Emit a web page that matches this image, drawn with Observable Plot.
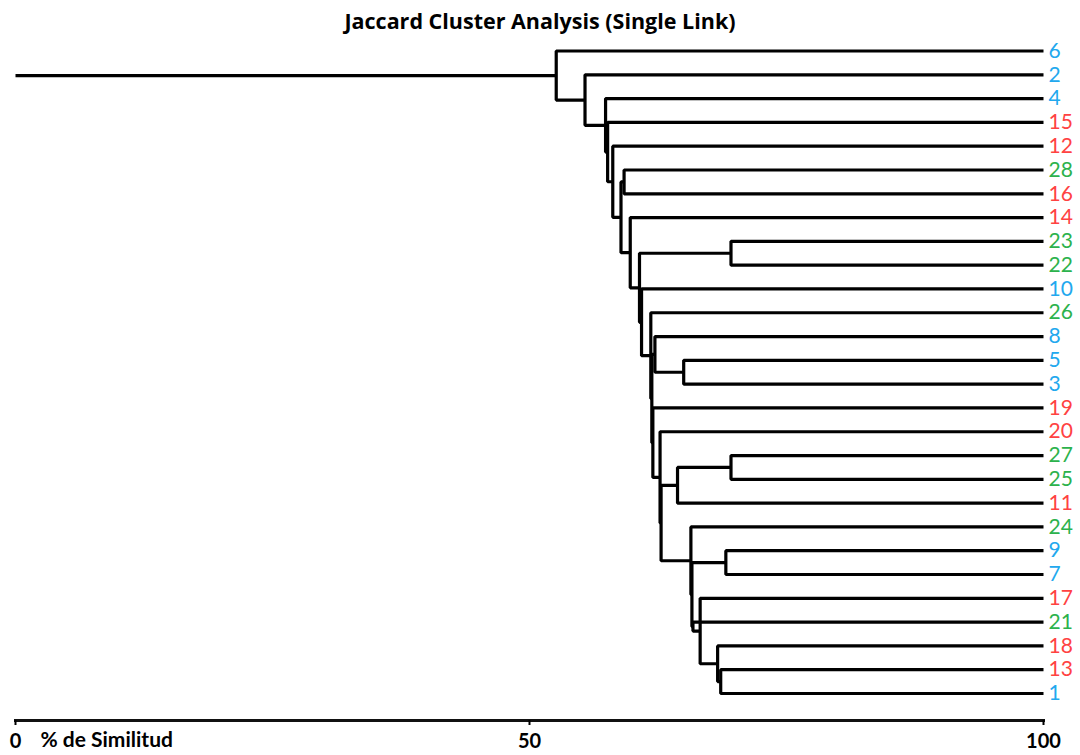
<!DOCTYPE html>
<html>
<head>
<meta charset="utf-8">
<script src="https://cdn.jsdelivr.net/npm/d3@7"></script>
<script src="https://cdn.jsdelivr.net/npm/@observablehq/plot@0.6"></script>
<style>
  html, body { margin: 0; padding: 0; background: #fff; }
  #title { height: 30px; line-height: 42px; text-align: center; font-family: "Open Sans", Lato, sans-serif; font-weight: bold; font-size: 21.5px; color: #000; white-space: nowrap; }
  #chart svg { display: block; }
</style>
</head>
<body>
<div id="title">Jaccard Cluster Analysis (Single Link)</div>
<div id="chart"></div>
<script>
// Leaf order (top to bottom) and their group colours
const leaves = ["6","2","4","15","12","28","16","14","23","22","10","26","8","5","3","19","20","27","25","11","24","9","7","17","21","18","13","1"];
const leafGroups = ["azul","azul","azul","rojo","rojo","verde","rojo","rojo","verde","verde","azul","verde","azul","azul","azul","rojo","rojo","verde","verde","rojo","verde","azul","azul","rojo","verde","rojo","rojo","azul"];
const groupNames = ["azul","rojo","verde"];
const groupColors = ["#22a8ee","#ff4242","#2cb24c"];

// Single-link merges: [child A, child B, % similarity]; merge k is named "m"+(k+1)
const merges = [
  ["13","1",68.6],
  ["18","m1",68.3],
  ["17","m2",66.6],
  ["21","m3",65.9],
  ["9","7",69.1],
  ["m5","m4",65.8],
  ["24","m6",65.7],
  ["27","25",69.6],
  ["m8","11",64.4],
  ["m9","m7",62.8],
  ["20","m10",62.7],
  ["19","m11",62.0],
  ["5","3",65.0],
  ["8","m13",62.2],
  ["m14","m12",61.9],
  ["26","m15",61.8],
  ["10","m16",60.9],
  ["23","22",69.6],
  ["m18","m17",60.7],
  ["14","m19",59.8],
  ["28","16",59.2],
  ["m21","m20",58.9],
  ["12","m22",58.1],
  ["15","m23",57.6],
  ["4","m24",57.4],
  ["2","m25",55.4],
  ["6","m26",52.6]
];
const axisTicks = [0, 50, 100];
const axisTitle = "% de Similitud";

// Build elbow paths from the merge table
const pos = new Map();
leaves.forEach((l, i) => pos.set(l, {x: 100, y: i}));
const elbows = [];
merges.forEach(([a, b, s], k) => {
  const A = pos.get(a), B = pos.get(b), id = "m" + (k + 1);
  elbows.push({id, x: A.x, y: A.y}, {id, x: s, y: A.y}, {id, x: s, y: B.y}, {id, x: B.x, y: B.y});
  pos.set(id, {x: s, y: (A.y + B.y) / 2});
});
const root = pos.get("m" + merges.length);
elbows.push({id: "root", x: 0, y: root.y}, {id: "root", x: root.x, y: root.y});

const chart = Plot.plot({
  width: 1080,
  height: 725,
  marginLeft: 15,
  marginRight: 37,
  marginTop: 20.5,
  marginBottom: 35,
  style: {fontFamily: "Lato, 'Open Sans', sans-serif", background: "transparent", color: "#000", overflow: "visible"},
  x: {domain: [0, 100], label: null},
  y: {domain: [0, leaves.length - 1], reverse: true, insetBottom: 27, axis: null},
  color: {domain: groupNames, range: groupColors},
  marks: [
    Plot.line(elbows, {x: "x", y: "y", z: "id", stroke: "#000", strokeWidth: 3.2, strokeLinejoin: "miter", strokeLinecap: "butt"}),
    Plot.text(leaves, {x: () => 100, y: (d, i) => i, text: d => d, fill: (d, i) => leafGroups[i], dx: 5, textAnchor: "start", fontSize: 21}),
    Plot.frame({anchor: "bottom", stroke: "#111", strokeWidth: 3}),
    Plot.axisX({anchor: "bottom", ticks: axisTicks, tickFormat: d => d, tickSize: 5, tickPadding: 8, strokeWidth: 2, fontSize: 20, fontWeight: "bold", label: null}),
    Plot.text([axisTitle], {frameAnchor: "bottom-left", dx: 25, dy: 20, lineAnchor: "middle", textAnchor: "start", fontSize: 21, fontWeight: "bold"})
  ]
});
document.getElementById("chart").appendChild(chart);
</script>
</body>
</html>
